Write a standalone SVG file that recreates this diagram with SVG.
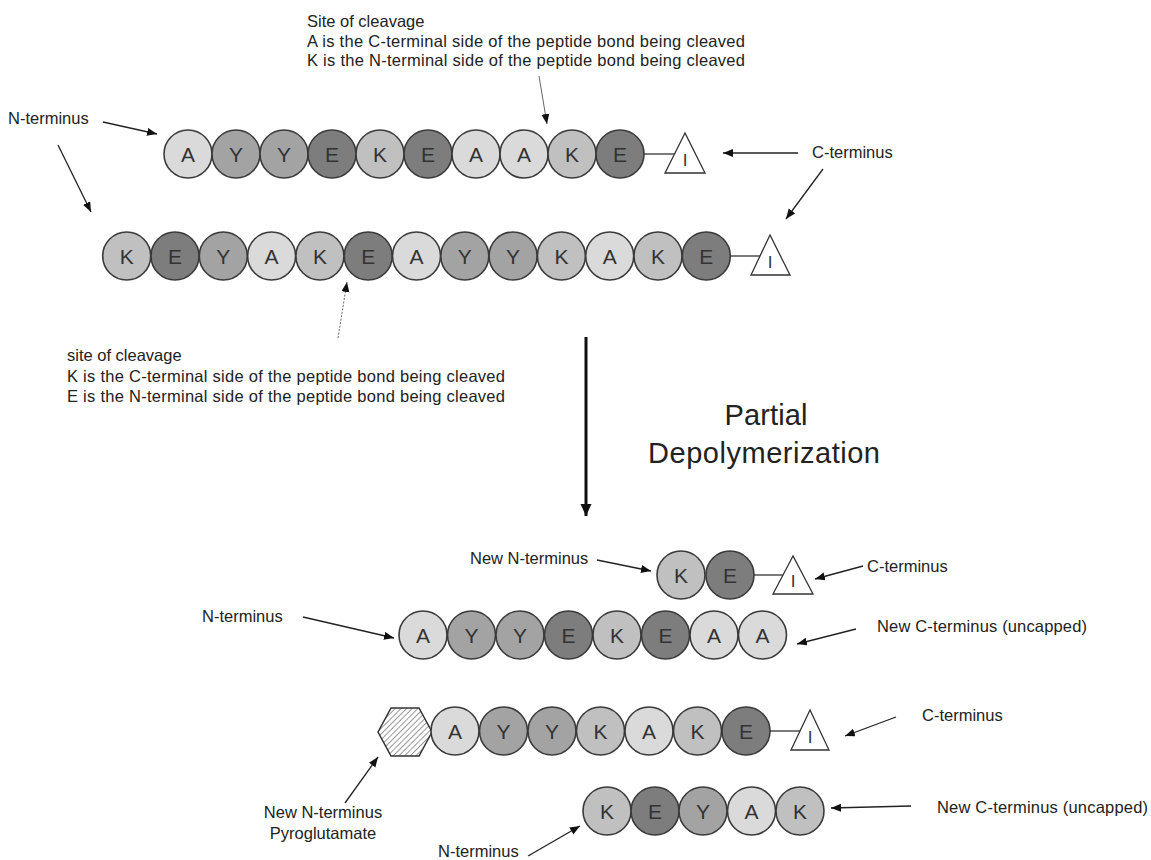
<svg xmlns="http://www.w3.org/2000/svg" width="1151" height="860" viewBox="0 0 1151 860">
<style>
.t{font-family:"Liberation Sans",Arial,sans-serif;font-size:16.5px;fill:#222}
.res{stroke:#3a3a3a;stroke-width:1.6}
.A{fill:#dadada}.K{fill:#c0c0c0}.Y{fill:#a3a3a3}.E{fill:#7d7d7d}
.lt{font-family:"Liberation Sans",Arial,sans-serif;font-size:21px;fill:#333;text-anchor:middle}
.it{font-family:"Liberation Sans",Arial,sans-serif;font-size:17px;fill:#333;text-anchor:middle}
.cap{fill:#fff;stroke:#333;stroke-width:1.3}
.bond{stroke:#333;stroke-width:1.3}
.ar{stroke:#222;stroke-width:1.3;fill:none;marker-end:url(#ah)}
.thin{stroke:#666;stroke-width:1;fill:none;marker-end:url(#ah)}
.big{font-family:"Liberation Sans",Arial,sans-serif;font-size:29px;fill:#222;text-anchor:middle}
</style>
<defs>
<marker id="ah" markerUnits="userSpaceOnUse" markerWidth="11" markerHeight="9" refX="10" refY="4" orient="auto"><path d="M0,0 L10,4 L0,8 z" fill="#111"/></marker>
<marker id="bh" markerUnits="userSpaceOnUse" markerWidth="14" markerHeight="12" refX="12" refY="5.5" orient="auto"><path d="M0,0 L12,5.5 L0,11 z" fill="#111"/></marker>
<pattern id="hatch" patternUnits="userSpaceOnUse" width="4" height="4" patternTransform="rotate(45)"><rect width="4" height="4" fill="#fff"/><line x1="0" y1="0" x2="0" y2="4" stroke="#555" stroke-width="1.2"/></pattern>
</defs>
<rect width="1151" height="860" fill="#fff"/>

<g id="chain1">
<circle class="res A" cx="188" cy="154" r="24"/><text class="lt" x="188" y="161.5">A</text>
<circle class="res Y" cx="236" cy="154" r="24"/><text class="lt" x="236" y="161.5">Y</text>
<circle class="res Y" cx="284" cy="154" r="24"/><text class="lt" x="284" y="161.5">Y</text>
<circle class="res E" cx="332" cy="154" r="24"/><text class="lt" x="332" y="161.5">E</text>
<circle class="res K" cx="380" cy="154" r="24"/><text class="lt" x="380" y="161.5">K</text>
<circle class="res E" cx="428" cy="154" r="24"/><text class="lt" x="428" y="161.5">E</text>
<circle class="res A" cx="476" cy="154" r="24"/><text class="lt" x="476" y="161.5">A</text>
<circle class="res A" cx="524" cy="154" r="24"/><text class="lt" x="524" y="161.5">A</text>
<circle class="res K" cx="572" cy="154" r="24"/><text class="lt" x="572" y="161.5">K</text>
<circle class="res E" cx="620" cy="154" r="24"/><text class="lt" x="620" y="161.5">E</text>
<line class="bond" x1="644" y1="154" x2="675" y2="154"/>
<polygon class="cap" points="685,133 665,173 705,173"/><text class="it" x="685" y="166">I</text>
</g>

<g id="chain2">
<circle class="res K" cx="126.7" cy="256" r="24"/><text class="lt" x="126.7" y="263.5">K</text>
<circle class="res E" cx="175" cy="256" r="24"/><text class="lt" x="175" y="263.5">E</text>
<circle class="res Y" cx="223.3" cy="256" r="24"/><text class="lt" x="223.3" y="263.5">Y</text>
<circle class="res A" cx="271.6" cy="256" r="24"/><text class="lt" x="271.6" y="263.5">A</text>
<circle class="res K" cx="319.9" cy="256" r="24"/><text class="lt" x="319.9" y="263.5">K</text>
<circle class="res E" cx="368.2" cy="256" r="24"/><text class="lt" x="368.2" y="263.5">E</text>
<circle class="res A" cx="416.5" cy="256" r="24"/><text class="lt" x="416.5" y="263.5">A</text>
<circle class="res Y" cx="464.8" cy="256" r="24"/><text class="lt" x="464.8" y="263.5">Y</text>
<circle class="res Y" cx="513.1" cy="256" r="24"/><text class="lt" x="513.1" y="263.5">Y</text>
<circle class="res K" cx="561.4" cy="256" r="24"/><text class="lt" x="561.4" y="263.5">K</text>
<circle class="res A" cx="609.7" cy="256" r="24"/><text class="lt" x="609.7" y="263.5">A</text>
<circle class="res K" cx="658" cy="256" r="24"/><text class="lt" x="658" y="263.5">K</text>
<circle class="res E" cx="706.3" cy="256" r="24"/><text class="lt" x="706.3" y="263.5">E</text>
<line class="bond" x1="730" y1="256" x2="761" y2="256"/>
<polygon class="cap" points="770,235 751,275 790,275"/><text class="it" x="770" y="268">I</text>
</g>

<g id="chainKE">
<circle class="res K" cx="681" cy="575" r="24"/><text class="lt" x="681" y="582.5">K</text>
<circle class="res E" cx="730" cy="575" r="24"/><text class="lt" x="730" y="582.5">E</text>
<line class="bond" x1="754" y1="575" x2="784" y2="575"/>
<polygon class="cap" points="793,556 773,594 813,594"/><text class="it" x="793" y="587">I</text>
</g>

<g id="chain3">
<circle class="res A" cx="423" cy="635" r="24"/><text class="lt" x="423" y="642.5">A</text>
<circle class="res Y" cx="471.5" cy="635" r="24"/><text class="lt" x="471.5" y="642.5">Y</text>
<circle class="res Y" cx="520" cy="635" r="24"/><text class="lt" x="520" y="642.5">Y</text>
<circle class="res E" cx="568.5" cy="635" r="24"/><text class="lt" x="568.5" y="642.5">E</text>
<circle class="res K" cx="617" cy="635" r="24"/><text class="lt" x="617" y="642.5">K</text>
<circle class="res E" cx="665.5" cy="635" r="24"/><text class="lt" x="665.5" y="642.5">E</text>
<circle class="res A" cx="714" cy="635" r="24"/><text class="lt" x="714" y="642.5">A</text>
<circle class="res A" cx="762.5" cy="635" r="24"/><text class="lt" x="762.5" y="642.5">A</text>
</g>

<g id="chain4">
<polygon points="378,732 391,708 419,708 432,732 419,756 391,756" fill="url(#hatch)" stroke="#333" stroke-width="1.5"/>
<circle class="res A" cx="455" cy="731" r="24"/><text class="lt" x="455" y="738.5">A</text>
<circle class="res Y" cx="503.5" cy="731" r="24"/><text class="lt" x="503.5" y="738.5">Y</text>
<circle class="res Y" cx="552" cy="731" r="24"/><text class="lt" x="552" y="738.5">Y</text>
<circle class="res K" cx="600.5" cy="731" r="24"/><text class="lt" x="600.5" y="738.5">K</text>
<circle class="res A" cx="649" cy="731" r="24"/><text class="lt" x="649" y="738.5">A</text>
<circle class="res K" cx="697.5" cy="731" r="24"/><text class="lt" x="697.5" y="738.5">K</text>
<circle class="res E" cx="746" cy="731" r="24"/><text class="lt" x="746" y="738.5">E</text>
<line class="bond" x1="770" y1="731" x2="801" y2="731"/>
<polygon class="cap" points="810,710 791,750 829,750"/><text class="it" x="810" y="743">I</text>
</g>

<g id="chain5">
<circle class="res K" cx="607" cy="811" r="24"/><text class="lt" x="607" y="818.5">K</text>
<circle class="res E" cx="655" cy="811" r="24"/><text class="lt" x="655" y="818.5">E</text>
<circle class="res Y" cx="703" cy="811" r="24"/><text class="lt" x="703" y="818.5">Y</text>
<circle class="res A" cx="751.5" cy="811" r="24"/><text class="lt" x="751.5" y="818.5">A</text>
<circle class="res K" cx="800" cy="811" r="24"/><text class="lt" x="800" y="818.5">K</text>
</g>

<g id="labels">
<text class="t" x="8" y="124">N-terminus</text>
<text class="t" x="812" y="158">C-terminus</text>
<text class="t" x="307" y="27">Site of cleavage</text>
<text class="t" x="307" y="47" textLength="438">A is the C-terminal  side of the peptide bond being cleaved</text>
<text class="t" x="307" y="66" textLength="438">K is the N-terminal  side of the peptide bond being cleaved</text>
<text class="t" x="67" y="361">site of cleavage</text>
<text class="t" x="67" y="382" textLength="438">K is the C-terminal  side of the peptide bond being cleaved</text>
<text class="t" x="67" y="402" textLength="438">E is the N-terminal  side of the peptide bond being cleaved</text>
<text class="big" x="766" y="425" textLength="83">Partial</text>
<text class="big" x="764" y="463" textLength="232">Depolymerization</text>
<text class="t" x="470" y="564">New N-terminus</text>
<text class="t" x="202" y="622">N-terminus</text>
<text class="t" x="867" y="572">C-terminus</text>
<text class="t" x="877" y="632" textLength="210">New C-terminus (uncapped)</text>
<text class="t" x="922" y="721">C-terminus</text>
<text class="t" x="323" y="818" text-anchor="middle">New N-terminus</text>
<text class="t" x="323" y="839" text-anchor="middle">Pyroglutamate</text>
<text class="t" x="438" y="857">N-terminus</text>
<text class="t" x="937" y="813" textLength="211">New C-terminus (uncapped)</text>
</g>

<g id="connectors">
<line class="ar" x1="103" y1="122" x2="157" y2="134"/>
<line class="ar" x1="58" y1="145" x2="91" y2="212"/>
<line class="ar" x1="798" y1="153" x2="723" y2="153"/>
<line class="ar" x1="823" y1="169" x2="786" y2="219"/>
<line class="thin" x1="539" y1="76" x2="547" y2="124"/>
<line class="thin" x1="338" y1="338" x2="347" y2="282" stroke-dasharray="2 1.5"/>
<line x1="586" y1="337" x2="586" y2="516" stroke="#111" stroke-width="3" marker-end="url(#bh)"/>
<line class="ar" x1="597" y1="560" x2="651" y2="571"/>
<line class="ar" x1="863" y1="566" x2="815" y2="579"/>
<line class="ar" x1="303" y1="617" x2="394" y2="638"/>
<line class="ar" x1="856" y1="629" x2="797" y2="644"/>
<line class="ar" x1="896" y1="717" x2="845" y2="736"/>
<line class="ar" x1="345" y1="803" x2="378" y2="757"/>
<line class="ar" x1="911" y1="806" x2="831" y2="808"/>
<line class="ar" x1="528" y1="856" x2="580" y2="826"/>
</g>
</svg>
